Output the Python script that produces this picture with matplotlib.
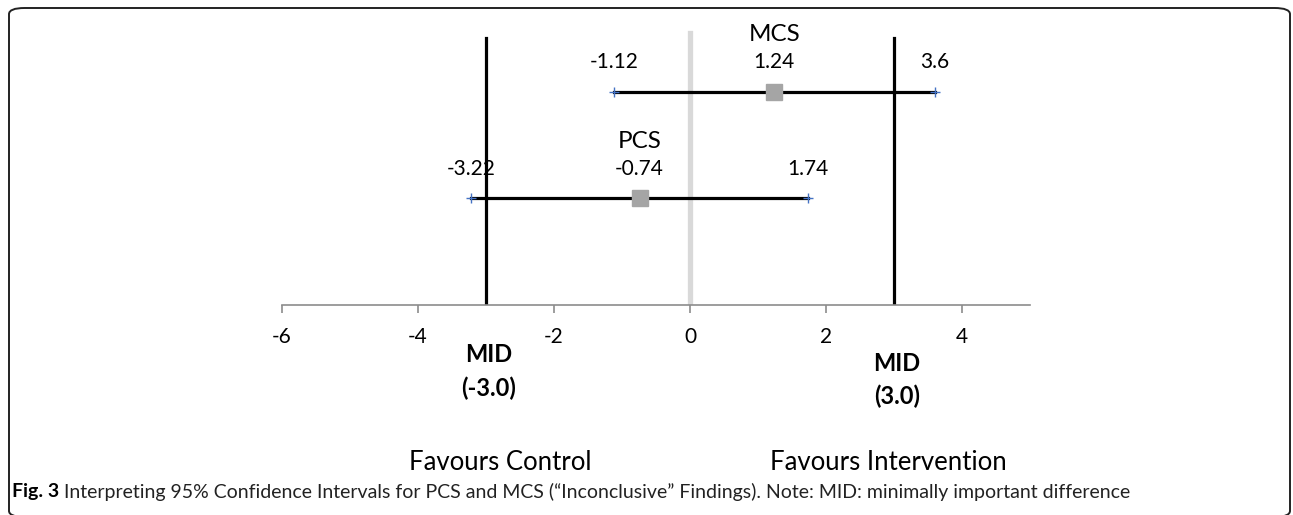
import matplotlib.pyplot as plt
from matplotlib.patches import FancyBboxPatch

# data
outcomes = ["MCS", "PCS"]
row_pos = [2, 1]
means = [1.24, -0.74]
lower = [-1.12, -3.22]
upper = [3.6, 1.74]
mid_values = [-3.0, 3.0]
xticks = [-6, -4, -2, 0, 2, 4]

W, H = 1293, 515
fig = plt.figure(figsize=(W / 100, H / 100), dpi=100)
plt.rcParams['font.family'] = ['Lato', 'DejaVu Sans']

# axes placed in pixel units
x0, x1 = 282, 1030
ybase, ytop = 305, 28
ax = fig.add_axes([x0 / W, (H - ybase) / H, (x1 - x0) / W, (ybase - ytop) / H])
ax.set_xlim(-6, 5)
ax.set_ylim(0, 2.6)

# reference lines
ax.plot([0, 0], [0, 2.55], color="#d9d9d9", lw=3.8, zorder=1)
for m in mid_values:
    ax.plot([m, m], [0, 2.51], color="black", lw=2.3, zorder=2)

# confidence intervals
for name, y, m, lo, hi in zip(outcomes, row_pos, means, lower, upper):
    ax.plot([lo, hi], [y, y], color="black", lw=2.3, zorder=3)
    ax.plot([lo, hi], [y, y], ls="none", marker="+", ms=7, mew=1.0,
            color="#4472c4", zorder=4)
    ax.plot([m], [y], ls="none", marker="s", ms=12, color="#a5a5a5", zorder=5)
    for v in (lo, m, hi):
        ax.annotate(f"{v:g}", xy=(v, y), xytext=(0, 21.5), textcoords="offset points",
                    ha="center", va="center", fontsize=15)
    ax.annotate(name, xy=(m, y), xytext=(0, 41), textcoords="offset points",
                ha="center", va="center", fontsize=17.5)

# axis styling
for s in ["left", "right", "top"]:
    ax.spines[s].set_visible(False)
ax.spines["bottom"].set_color("#8c8c8c")
ax.spines["bottom"].set_linewidth(1.2)
ax.set_yticks([])
ax.set_xticks(xticks)
ax.set_xticklabels([str(t) for t in xticks])
ax.tick_params(axis="x", direction="out", length=6, width=1.2, color="#8c8c8c",
               labelsize=15, pad=10)

# MID labels under the axis
mid_offsets = [(36, 60), (42, 66)]
for m, (o1, o2) in zip(mid_values, mid_offsets):
    ax.annotate("MID", xy=(m, 0), xycoords="data", xytext=(2, -o1),
                textcoords="offset points", ha="center", va="center",
                fontsize=17, fontweight="bold")
    ax.annotate(f"({m:.1f})", xy=(m, 0), xycoords="data", xytext=(2, -o2),
                textcoords="offset points", ha="center", va="center",
                fontsize=17, fontweight="bold")

fig.text(500 / W, 1 - 462 / H, "Favours Control", ha="center", va="center", fontsize=18.5)
fig.text(888 / W, 1 - 462 / H, "Favours Intervention", ha="center", va="center", fontsize=18.5)

# caption
t1 = fig.text(12 / W, 1 - 492 / H, "Fig. 3", ha="left", va="center", fontsize=14,
              fontweight="bold")
fig.canvas.draw()
bb = t1.get_window_extent()
fig.text((bb.x1 + 5) / W, 1 - 492 / H,
         "Interpreting 95% Confidence Intervals for PCS and MCS (\u201cInconclusive\u201d "
         "Findings). Note: MID: minimally important difference",
         ha="left", va="center", fontsize=14, color="#222222")

# rounded frame round the figure, bottom edge just outside the picture
frame = FancyBboxPatch((9 / W, 1 - 517 / H), (1290 - 9) / W, (517 - 8) / H,
                       boxstyle="round,pad=0,rounding_size=0.012",
                       transform=fig.transFigure, fill=False, lw=1.4,
                       edgecolor="#222222", clip_on=False)
fig.patches.append(frame)

fig.savefig("out.png", dpi=100)
